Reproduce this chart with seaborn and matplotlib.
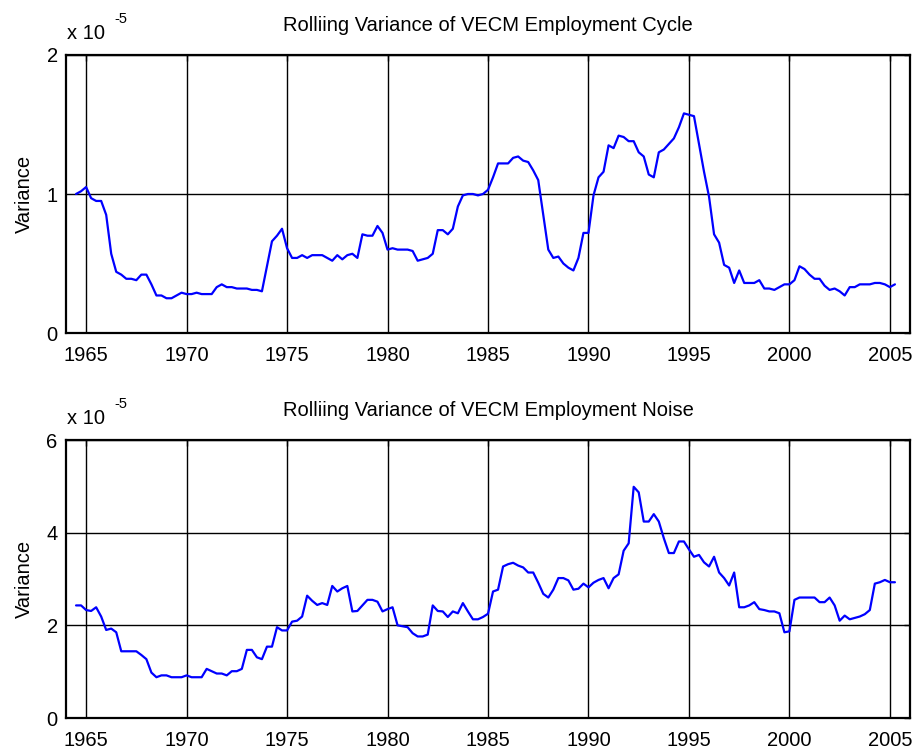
import numpy as np
import pandas as pd
import matplotlib
matplotlib.use("Agg")
import matplotlib.pyplot as plt
import seaborn as sns

# quarterly dates, 1964Q3 .. 2005Q2
quarters = np.arange(1964.5, 2005.26, 0.25)

# rolling variance of the cycle, in units of 1e-5
cycle_var = [
    1.00, 1.02, 1.05, 0.97, 0.95, 0.95, 0.85, 0.57, 0.44, 0.42,
    0.39, 0.39, 0.38, 0.42, 0.42, 0.35, 0.27, 0.27, 0.25, 0.25,
    0.27, 0.29, 0.28, 0.28, 0.29, 0.28, 0.28, 0.28, 0.33, 0.35,
    0.33, 0.33, 0.32, 0.32, 0.32, 0.31, 0.31, 0.30, 0.48, 0.66,
    0.70, 0.75, 0.61,
    0.54, 0.54, 0.56, 0.54, 0.56, 0.56, 0.56, 0.54, 0.52, 0.56,
    0.53, 0.56, 0.57, 0.54,
    0.71, 0.70, 0.70, 0.77, 0.72, 0.60, 0.61, 0.60, 0.60, 0.60,
    0.59, 0.52, 0.53, 0.54, 0.57, 0.74, 0.74, 0.71, 0.75, 0.91,
    0.99, 1.00, 1.00, 0.99, 1.00, 1.03, 1.12, 1.22, 1.22, 1.22,
    1.26, 1.27, 1.24, 1.23, 1.17, 1.10, 0.85, 0.60, 0.54, 0.55,
    0.50, 0.47, 0.45, 0.54, 0.72, 0.72, 0.99, 1.12, 1.16, 1.35,
    1.33, 1.42, 1.41, 1.38,
    1.38, 1.30, 1.27, 1.14, 1.12, 1.30, 1.32, 1.36, 1.40, 1.48,
    1.58, 1.57, 1.56, 1.36, 1.16, 0.98, 0.71, 0.65, 0.49, 0.47,
    0.36, 0.45, 0.36, 0.36, 0.36, 0.38, 0.32, 0.32, 0.31, 0.33,
    0.35, 0.35, 0.38, 0.48, 0.46, 0.42, 0.39, 0.39, 0.34, 0.31,
    0.32, 0.30, 0.27, 0.33, 0.33, 0.35, 0.35, 0.35, 0.36, 0.36,
    0.35, 0.33, 0.35,
]

# rolling variance of the noise, in units of 1e-5
noise_var = [
    2.43, 2.43, 2.33, 2.31, 2.39, 2.19, 1.90, 1.93, 1.85, 1.44,
    1.44, 1.44, 1.44, 1.36, 1.27, 0.98, 0.88, 0.92, 0.92, 0.88,
    0.88, 0.88, 0.92, 0.88, 0.88, 0.88, 1.06, 1.01, 0.96, 0.96,
    0.92, 1.01, 1.01, 1.06, 1.47, 1.47, 1.31, 1.27, 1.54, 1.54,
    1.96, 1.89, 1.89,
    2.08, 2.10, 2.19, 2.64, 2.53, 2.44, 2.48, 2.44, 2.85, 2.73,
    2.80, 2.85, 2.30, 2.31,
    2.43, 2.55, 2.55, 2.51, 2.30, 2.35, 2.39, 2.00, 1.98, 1.96,
    1.83, 1.76, 1.76, 1.80, 2.43, 2.31, 2.30, 2.18, 2.30, 2.26,
    2.48, 2.30, 2.13, 2.13, 2.18, 2.25, 2.73, 2.77, 3.27, 3.32,
    3.35, 3.29, 3.25, 3.14, 3.14, 2.92, 2.68, 2.60, 2.77, 3.02,
    3.02, 2.97, 2.77, 2.79, 2.90, 2.82, 2.92, 2.98, 3.02, 2.80,
    3.02, 3.10, 3.61, 3.77,
    4.99, 4.87, 4.24, 4.24, 4.40, 4.24, 3.88, 3.56, 3.56, 3.81,
    3.81, 3.64, 3.48, 3.52, 3.36, 3.27, 3.48, 3.14, 3.02, 2.86,
    3.14, 2.39, 2.39, 2.43, 2.50, 2.35, 2.33, 2.30, 2.30, 2.26,
    1.85, 1.87, 2.55, 2.60, 2.60, 2.60, 2.60, 2.50, 2.50, 2.60,
    2.43, 2.10, 2.21, 2.13, 2.16, 2.19, 2.24, 2.33, 2.90, 2.93,
    2.98, 2.93, 2.93,
]

titles = ["Rolliing Variance of VECM Employment Cycle",
          "Rolliing Variance of VECM Employment Noise"]
year_ticks = [1965, 1970, 1975, 1980, 1985, 1990, 1995, 2000, 2005]
cycle_ticks = [0, 1, 2]
noise_ticks = [0, 2, 4, 6]

sns.set_style("white")
plt.rcParams['font.family'] = ['Liberation Sans', 'DejaVu Sans']
plt.rcParams['text.color'] = 'black'
plt.rcParams['axes.labelcolor'] = 'black'

fig = plt.figure(figsize=(9.19, 7.54), dpi=100)
ax_top = fig.add_axes([66 / 919, 1 - 333 / 754, 844 / 919, 278 / 754])
ax_bot = fig.add_axes([66 / 919, 1 - 718 / 754, 844 / 919, 278 / 754])

panels = [
    (ax_top, cycle_var, cycle_ticks, titles[0]),
    (ax_bot, noise_var, noise_ticks, titles[1]),
]

for ax, vals, yticks, title in panels:
    df = pd.DataFrame({"date": quarters, "var": vals})
    sns.lineplot(data=df, x="date", y="var", ax=ax, color=(0, 0, 1),
                 linewidth=1.6, zorder=3)
    ax.set_xlim(1964, 2006)
    ax.set_ylim(yticks[0], yticks[-1])
    ax.set_xticks(year_ticks)
    ax.set_yticks(yticks)
    ax.grid(True, color='black', linewidth=1.0, linestyle='-')
    ax.tick_params(axis='both', direction='in', top=True, right=True,
                   length=4, width=1.0, labelsize=14.5, colors='black')
    ax.tick_params(axis='x', pad=9)
    ax.tick_params(axis='y', pad=6)
    for sp in ax.spines.values():
        sp.set_linewidth(1.6)
        sp.set_color('black')
    ax.set_xlabel("")
    ax.set_ylabel("Variance", fontsize=14.5, color='black')
    ax.yaxis.set_label_coords(-0.038, 0.5)
    ax.set_title(title, fontsize=14.5, pad=17, color='black')
    ax.annotate("x 10", xy=(0, 1), xycoords='axes fraction',
                xytext=(1, 11.5), textcoords='offset points',
                fontsize=14.5, va='baseline', ha='left')
    ax.annotate("-5", xy=(0, 1), xycoords='axes fraction',
                xytext=(35, 23), textcoords='offset points',
                fontsize=10.5, va='baseline', ha='left')

fig.savefig("out.png", dpi=100)
